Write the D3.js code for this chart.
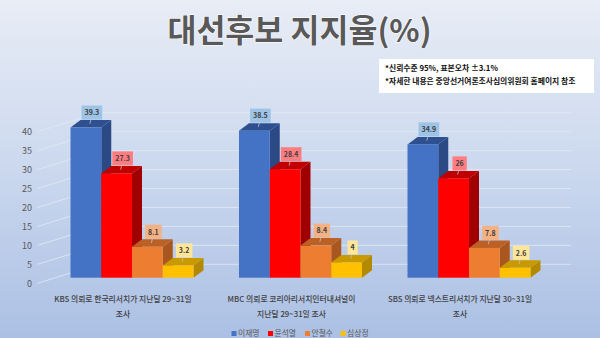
<!DOCTYPE html>
<html>
<head>
<meta charset="utf-8">
<script src="https://cdn.jsdelivr.net/npm/d3@7/dist/d3.min.js"></script>
<style>
  html, body { margin: 0; padding: 0; }
  body { width: 600px; height: 338px; overflow: hidden; }
  svg text { font-family: "Noto Sans CJK KR", "Noto Sans", sans-serif; }
</style>
</head>
<body>
<svg id="chart" width="600" height="338"></svg>
<script>
// Poll sources (two-line labels split on "\n")
const categories = [
  "KBS 의뢰로 한국리서치가 지난달 29~31일\n조사",
  "MBC 의뢰로 코리아리서치인터내셔널이\n지난달 29~31일 조사",
  "SBS 의뢰로 넥스트리서치가 지난달 30~31일\n조사"
];
const series = ["이재명", "윤석열", "안철수", "심상정"];
// Support (%) per candidate, one entry per poll
const leeJaemyung = [39.3, 38.5, 34.9];
const yoonSeokyoul = [27.3, 28.4, 26];
const ahnCheolsoo = [8.1, 8.4, 7.8];
const simSangjeong = [3.2, 4, 2.6];
const seriesValues = [leeJaemyung, yoonSeokyoul, ahnCheolsoo, simSangjeong];
const yTicks = [0, 5, 10, 15, 20, 25, 30, 35, 40];
const titleText = "대선후보 지지율(%)";
const notes = ["*신뢰수준 95%, 표본오차 ±3.1%", "*자세한 내용은 중앙선거여론조사심의위원회 홈페이지 참조"];

// Face colours for each series: front, top, side, label box
const palette = [
  { front: "#4472C4", top: "#2F5090", side: "#2B4A85", label: "#9DC3E6" },
  { front: "#FF0000", top: "#C00000", side: "#A00000", label: "#FF7C80" },
  { front: "#ED7D31", top: "#BC6126", side: "#A9561F", label: "#F4B183" },
  { front: "#FFC000", top: "#C99A00", side: "#B38900", label: "#FFE699" }
];

const svg = d3.select("#chart");
const defs = svg.append("defs");
const bg = defs.append("linearGradient").attr("id", "bg")
  .attr("x1", 0).attr("y1", 0).attr("x2", 0).attr("y2", 1);
bg.append("stop").attr("offset", 0).attr("stop-color", "#E8EDF6");
bg.append("stop").attr("offset", 0.5).attr("stop-color", "#CBD8EE");
bg.append("stop").attr("offset", 1).attr("stop-color", "#ABC0E4");
svg.append("rect").attr("width", 600).attr("height", 338).attr("fill", "url(#bg)");

// Title with a soft white outline
svg.append("text")
  .attr("x", 299.5).attr("y", 42)
  .attr("text-anchor", "middle")
  .attr("font-size", 31.5).attr("font-weight", 700)
  .attr("fill", "#595959")
  .attr("stroke", "#FFFFFF").attr("stroke-width", 1.2).attr("paint-order", "stroke")
  .text(titleText);

// Notes box
const noteG = svg.append("g");
noteG.append("rect").attr("x", 379).attr("y", 59).attr("width", 215).attr("height", 34).attr("fill", "#FFFFFF");
noteG.selectAll("text").data(notes).join("text")
  .attr("x", 385).attr("y", (d, i) => 71 + i * 12.5)
  .attr("font-size", 7.8).attr("font-weight", 700).attr("fill", "#111111")
  .text(d => d);

// Scales: front axis, bars (sit slightly back on the floor), back wall offset
const yAxis = d3.scaleLinear().domain([0, 40]).range([283.3, 131.7]);
const yBar = d3.scaleLinear().domain([0, 40]).range([277.7, 124.9]);
const xGroup = d3.scalePoint().domain(categories).range([132, 469]);
const xSeries = d3.scaleBand().domain(series).range([-61.5, 61.5]);
const wallDx = 61, wallDy = -19, wallRight = 571, axisX = 37.5;
const depthDx = 10, depthDy = -7.5;

// Side wall and back wall gridlines
const grid = svg.append("g").attr("stroke", "#E4E8F3").attr("stroke-opacity", 0.8).attr("stroke-width", 1).attr("fill", "none");
yTicks.forEach(t => {
  const y = yAxis(t);
  grid.append("path").attr("d", `M${axisX},${y}L${axisX + wallDx},${y + wallDy}L${wallRight},${y + wallDy}`);
});

// Value axis labels
svg.append("g").selectAll("text").data(yTicks).join("text")
  .attr("x", 32).attr("y", d => yAxis(d) + 3.2)
  .attr("text-anchor", "end")
  .attr("font-size", 9).attr("fill", "#595959")
  .text(d => d);

// 3D columns
const bars = svg.append("g");
categories.forEach((cat, ci) => {
  series.forEach((s, si) => {
    const v = seriesValues[si][ci];
    const col = palette[si];
    const x = xGroup(cat) + xSeries(s);
    const w = xSeries.bandwidth();
    const yt = yBar(v), yb = yBar(0);
    const g = bars.append("g");
    g.append("polygon")
      .attr("points", [[x + w, yt], [x + w + depthDx, yt + depthDy], [x + w + depthDx, yb + depthDy], [x + w, yb]].join(" "))
      .attr("fill", col.side);
    g.append("polygon")
      .attr("points", [[x, yt], [x + depthDx, yt + depthDy], [x + w + depthDx, yt + depthDy], [x + w, yt]].join(" "))
      .attr("fill", col.top);
    g.append("rect").attr("x", x).attr("y", yt).attr("width", w).attr("height", yb - yt)
      .attr("fill", col.front);
  });
});

// Data labels with leader lines
const labels = svg.append("g");
categories.forEach((cat, ci) => {
  series.forEach((s, si) => {
    const v = seriesValues[si][ci];
    const col = palette[si];
    const x = xGroup(cat) + xSeries(s);
    const w = xSeries.bandwidth();
    const yt = yBar(v);
    const cx = x + w / 2 + 6;
    const boxBottom = yt - 8;
    const t = labels.append("text")
      .attr("x", cx).attr("y", boxBottom - 4.2)
      .attr("text-anchor", "middle")
      .attr("font-size", 7).attr("font-weight", 700).attr("fill", "#404040")
      .text(v);
    const tw = t.node().getComputedTextLength();
    labels.insert("rect", () => t.node())
      .attr("x", cx - tw / 2 - 3).attr("y", boxBottom - 14)
      .attr("width", tw + 6).attr("height", 14)
      .attr("fill", col.label);
    labels.insert("line", () => t.node())
      .attr("x1", cx - 1).attr("y1", boxBottom)
      .attr("x2", x + w / 2 + depthDx / 2 - 1).attr("y2", yt + depthDy / 2)
      .attr("stroke", "#BFBFBF").attr("stroke-width", 0.8);
  });
});

// Category labels
const catG = svg.append("g");
categories.forEach(cat => {
  const lines = cat.split("\n");
  catG.append("g").selectAll("text").data(lines).join("text")
    .attr("x", xGroup(cat) - 9).attr("y", (d, i) => 302 + i * 14.5)
    .attr("text-anchor", "middle")
    .attr("font-size", 7.8).attr("font-weight", 500).attr("fill", "#404040")
    .text(d => d);
});

// Legend
const legendX = [231.5, 268, 305, 340.6];
const legend = svg.append("g");
series.forEach((s, si) => {
  legend.append("rect").attr("x", legendX[si]).attr("y", 331).attr("width", 5).attr("height", 5)
    .attr("fill", palette[si].front);
  legend.append("text").attr("x", legendX[si] + 6.5).attr("y", 336.3)
    .attr("font-size", 7.8).attr("fill", "#595959").text(s);
});
</script>
</body>
</html>
